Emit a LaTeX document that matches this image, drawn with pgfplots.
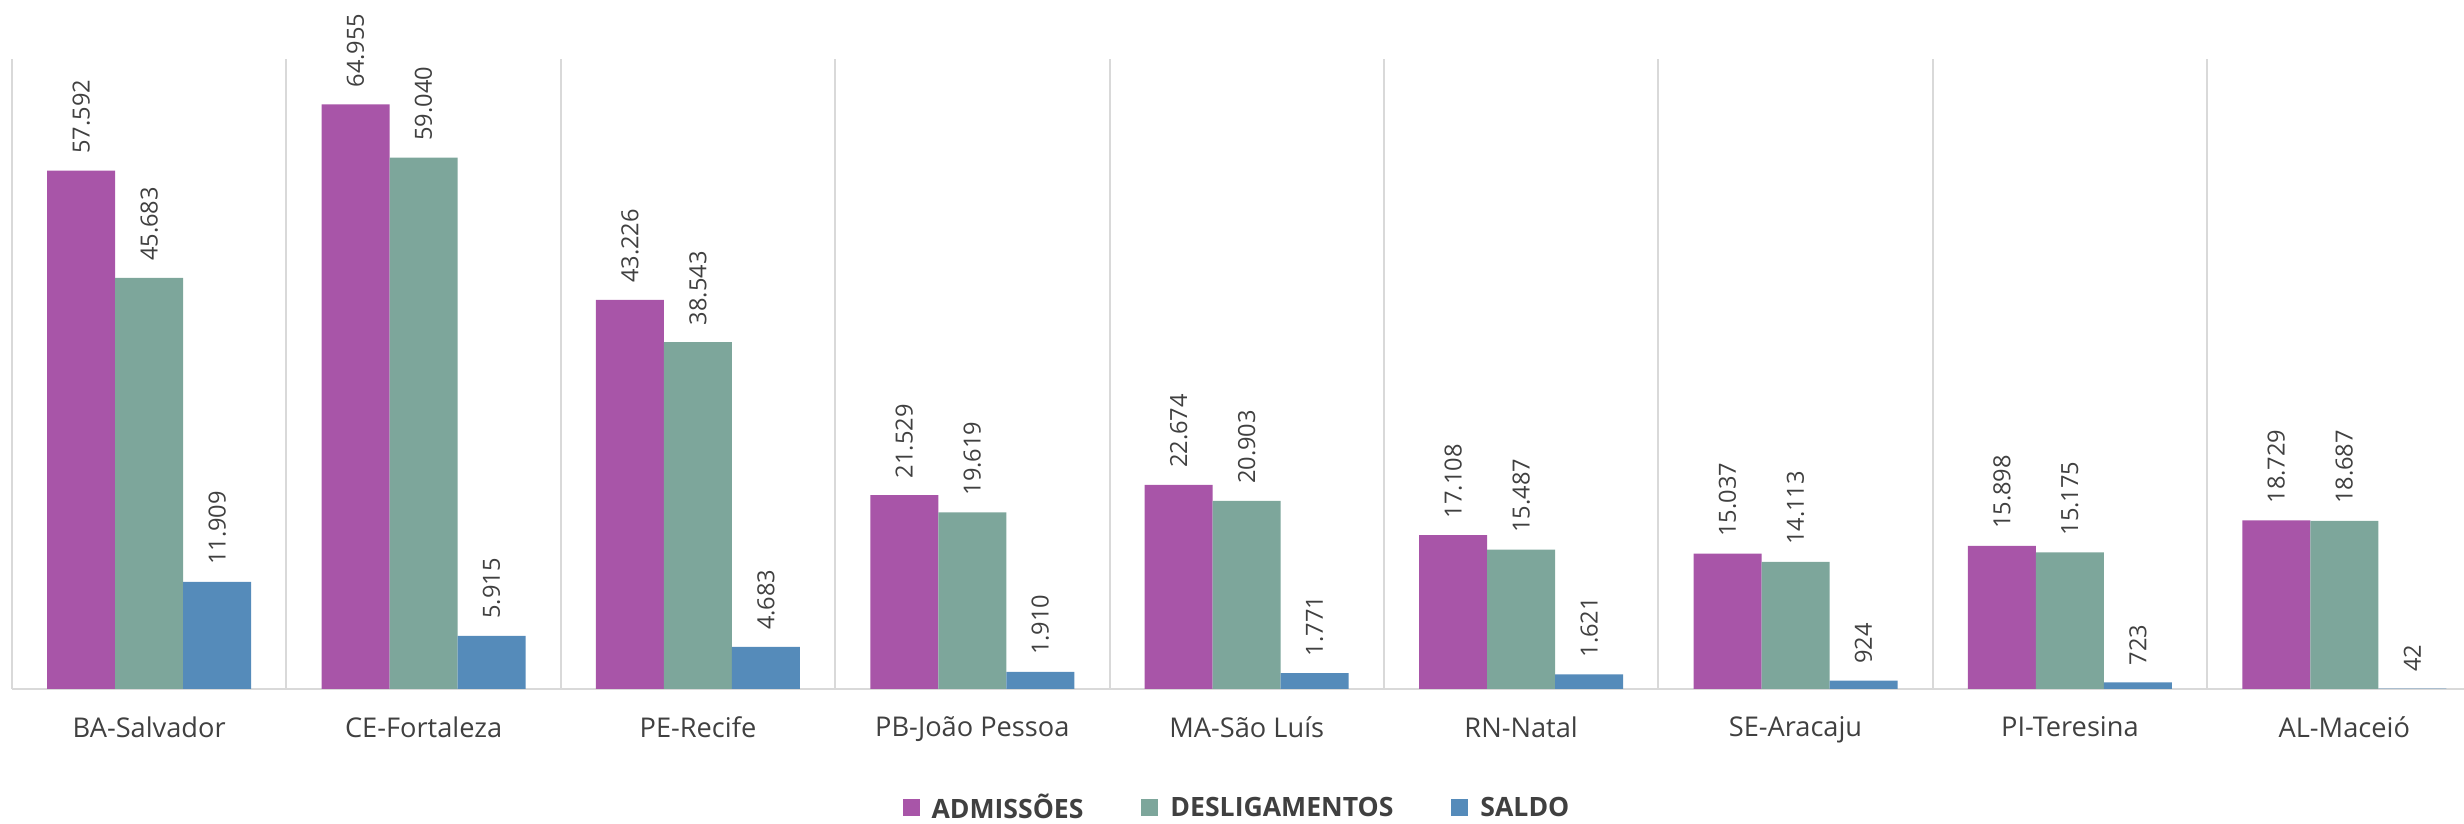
\documentclass[border=0pt]{standalone}
\usepackage{fontspec}
\setmainfont{Open Sans}
\usepackage{pgfplots}
\pgfplotsset{compat=1.18}
\definecolor{cadm}{RGB}{168,85,168}
\definecolor{cdes}{RGB}{125,166,155}
\definecolor{csal}{RGB}{85,139,186}
\definecolor{gridgray}{RGB}{217,217,217}
\definecolor{txt}{RGB}{64,64,64}
\begin{document}
\begin{tikzpicture}
\begin{axis}[
  at={(6pt,67.5pt)}, anchor=south west,
  scale only axis,
  width=1226pt, height=315pt,
  ymin=0, ymax=70000,
  xmin=-0.5, xmax=8.436,
  ybar=0pt, bar width=34pt,
  axis y line=none,
  axis x line=bottom,
  axis line style={-, draw=gridgray, line width=1pt},
  xtick={0,...,8},
  xticklabels={BA-Salvador,CE-Fortaleza,PE-Recife,PB-João Pessoa,MA-São Luís,RN-Natal,SE-Aracaju,PI-Teresina,AL-Maceió},
  major tick length=0pt,
  xticklabel style={font=\fontsize{13.6}{16}\selectfont, text=txt, inner sep=0pt, anchor=north, yshift=-13.5pt},
  extra x ticks={-0.5,0.5,1.5,2.5,3.5,4.5,5.5,6.5,7.5},
  extra x tick labels={},
  extra x tick style={grid=major, major grid style={draw=gridgray, line width=1pt}},
  /pgf/number format/1000 sep={.},
  /pgf/number format/assume math mode=true,
  nodes near coords,
  nodes near coords style={rotate=90, anchor=west, inner sep=0pt, outer xsep=8.5pt, font=\fontsize{11.8}{13}\selectfont, text=txt},
  legend columns=3,
  legend style={at={(0.5,0)}, anchor=center, yshift=-59.5pt, draw=none, fill=none,
    font=\bfseries\fontsize{13.3}{15}\selectfont, text=txt,
    nodes={inner ysep=0pt},
    /tikz/every odd column/.append style={column sep=4pt},
    /tikz/every even column/.append style={column sep=27pt}},
  legend image code/.code={\fill[#1] (0pt,-4.25pt) rectangle (8.5pt,4.25pt);},
]
\addplot[fill=cadm, draw=none] coordinates {(0,57592) (1,64955) (2,43226) (3,21529) (4,22674) (5,17108) (6,15037) (7,15898) (8,18729)};
\addplot[fill=cdes, draw=none] coordinates {(0,45683) (1,59040) (2,38543) (3,19619) (4,20903) (5,15487) (6,14113) (7,15175) (8,18687)};
\addplot[fill=csal, draw=none] coordinates {(0,11909) (1,5915) (2,4683) (3,1910) (4,1771) (5,1621) (6,924) (7,723) (8,42)};
\legend{ADMISSÕES,DESLIGAMENTOS,SALDO}
\end{axis}
\pgfresetboundingbox
\path[use as bounding box] (0,0) rectangle (1232pt,412pt);
\end{tikzpicture}
\end{document}
